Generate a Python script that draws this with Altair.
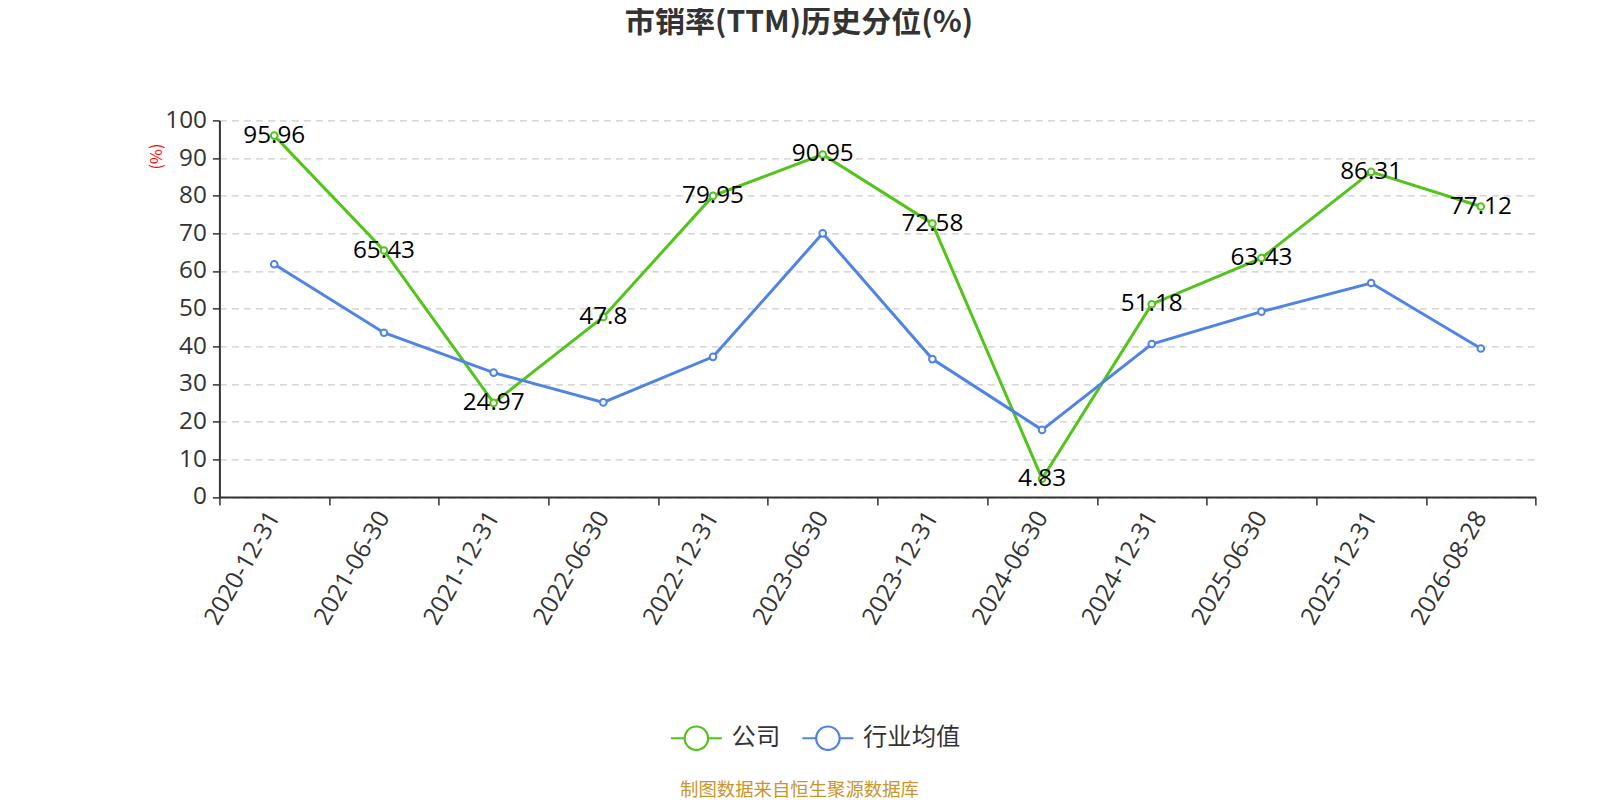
import pandas as pd
import altair as alt

# report dates (category axis)
dates = ["2020-12-31", "2021-06-30", "2021-12-31", "2022-06-30", "2022-12-31", "2023-06-30",
         "2023-12-31", "2024-06-30", "2024-12-31", "2025-06-30", "2025-12-31", "2026-08-28"]

# P/S (TTM) historical percentile, %
company = [95.96, 65.43, 24.97, 47.8, 79.95, 90.95, 72.58, 4.83, 51.18, 63.43, 86.31, 77.12]
industry = [61.8, 43.6, 33.0, 25.1, 37.2, 70.0, 36.6, 17.8, 40.6, 49.2, 56.8, 39.4]

series_names = ["公司", "行业均值"]
series_colors = ["#52c41a", "#5084e4"]
y_ticks = [0, 10, 20, 30, 40, 50, 60, 70, 80, 90, 100]

CJK = "Noto Sans CJK SC"
NUM = "Open Sans"

# long format table
rows = []
for name, values in zip(series_names, [company, industry]):
    for d, v in zip(dates, values):
        rows.append({"date": d, "series": name, "value": v, "label": str(v)})
df = pd.DataFrame(rows)

x = alt.X("date:N", sort=dates,
          scale=alt.Scale(type="band", paddingInner=0, paddingOuter=0),
          axis=alt.Axis(title="制图数据来自恒生聚源数据库", titleColor="#c8962e", titleFontSize=18.4,
                        titleFontWeight="normal", titleFont=CJK, titleX=579.6, titleY=298.5,
                        titleAnchor="middle", titleBaseline="alphabetic",
                        labelAngle=-60, labelAlign="right", labelBaseline="middle",
                        labelFontSize=24.3, labelColor="#333", labelFont=NUM, labelPadding=8,
                        tickBand="extent", tickSize=8, tickColor="#333", tickWidth=1.5,
                        domainColor="#333", domainWidth=2, grid=False))
y = alt.Y("value:Q", scale=alt.Scale(domain=[0, 100], nice=False),
          axis=alt.Axis(values=y_ticks, title="(%)", titleColor="red", titleFontSize=16.3,
                        titleFontWeight="normal", titleFont=CJK, titleX=-63.3, titleY=35.7,
                        titleAngle=-90, titleAlign="center", titleBaseline="middle",
                        labelFontSize=24.3, labelColor="#333", labelFont=NUM, labelPadding=6,
                        tickSize=7, tickColor="#333", tickWidth=1.5,
                        domainColor="#333", domainWidth=2,
                        gridColor="#cccccc", gridDash=[7, 5], gridWidth=1.2))

color_scale = alt.Scale(domain=series_names, range=series_colors)

base = alt.Chart(df)

lines = base.mark_line(strokeWidth=3).encode(
    x=x, y=y,
    color=alt.Color("series:N", scale=color_scale, sort=series_names,
                    legend=alt.Legend(title=None, orient="none", legendX=450, legendY=590.4,
                                      direction="horizontal",
                                      symbolType="M -1 0 L -0.46 0 M 0.46 0 A 0.46 0.46 0 1 1 -0.46 0 A 0.46 0.46 0 1 1 0.46 0 M 0.46 0 L 1 0",
                                      symbolSize=2601, symbolStrokeWidth=2.2,
                                      labelFontSize=24.3, labelColor="#333", labelFont=CJK,
                                      labelOffset=8.2, columnPadding=17.5)),
)

points = base.mark_point(filled=True, fill="white", size=44, strokeWidth=2, opacity=1).encode(
    x=x, y=y,
    stroke=alt.Stroke("series:N", scale=color_scale, legend=None),
)

labels = base.transform_filter(alt.datum.series == "公司").mark_text(
    fontSize=24.3, color="black", font=NUM, align="center", baseline="middle", dy=0
).encode(x=x, y=y, text="label:N")

chart = (lines + points + labels).properties(
    width=1316.3, height=376.5,
    autosize=alt.AutoSizeParams(type="none"),
    padding={"left": 211.4, "top": 112.4, "right": 24, "bottom": 311},
    title=alt.TitleParams("市销率(TTM)历史分位(%)", fontSize=30.1, fontWeight="bold", color="#333",
                          font=CJK, anchor="middle", dx=-78.6, offset=70),
).configure_view(stroke=None)

chart.save("out.html", embed_options={"renderer": "svg", "actions": False})
